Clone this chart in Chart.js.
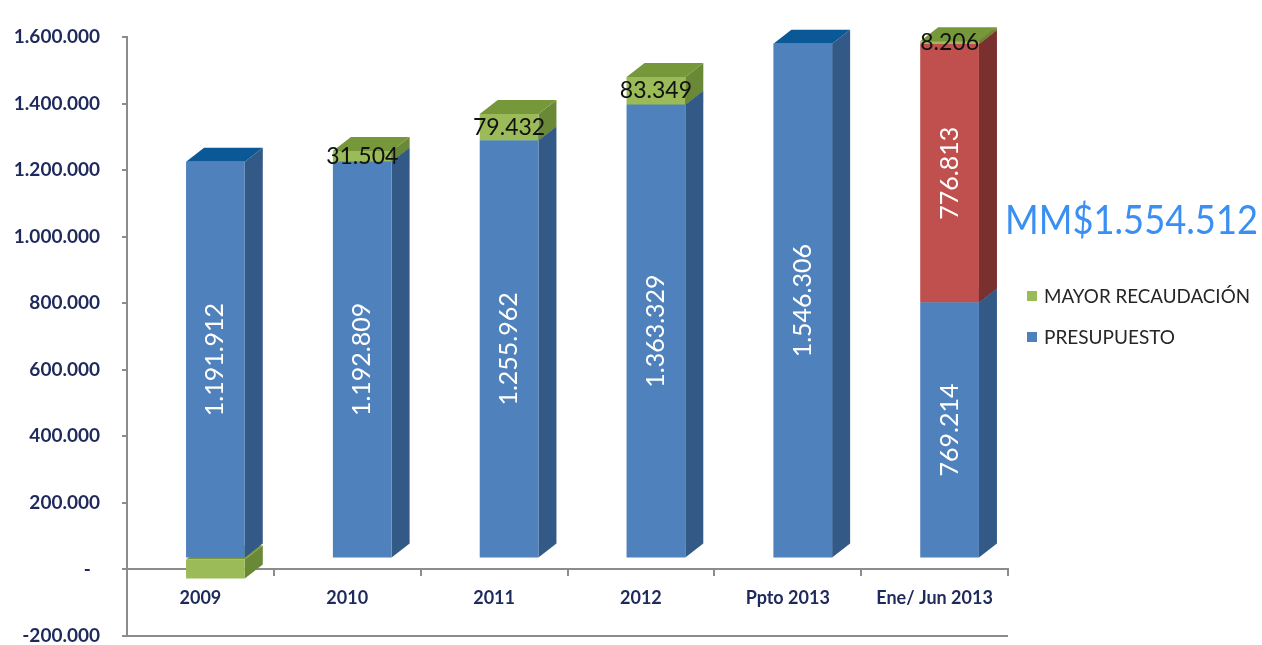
<!DOCTYPE html>
<html>
<head>
<meta charset="utf-8">
<script src="https://cdn.jsdelivr.net/npm/chart.js@4"></script>
<style>
  html, body { margin: 0; padding: 0; background: #fff; }
  #wrap { width: 1262px; height: 645px; position: relative; }
</style>
</head>
<body>
<div id="wrap"><canvas id="chart"></canvas></div>
<script>
// Presupuesto vs mayor recaudación (MM$)
const categories = ['2009', '2010', '2011', '2012', 'Ppto 2013', 'Ene/ Jun 2013'];
const presupuesto = [1191912, 1192809, 1255962, 1363329, 1546306, 769214];
const ejecutado = [null, null, null, null, null, 776813];
const mayorRecaudacion = [-60000, 31504, 79432, 83349, null, 8206];
const yTickLabels = ['-200.000', '-  ', '200.000', '400.000', '600.000', '800.000',
    '1.000.000', '1.200.000', '1.400.000', '1.600.000'];
const totalLabel = 'MM$1.554.512';

// 3D look: front faces shifted, then side and top faces added
const SHIFT_X = 15, SHIFT_Y = -11;
const DEPTH_X = 18, DEPTH_Y = -14;
const faceColors = [
    { side: '#335a86', top: '#0b5896' },  // presupuesto
    { side: '#7a302e', top: '#963936' },  // ejecutado
    { side: '#6a8936', top: '#77973b' }   // mayor recaudacion
];

function fmt(n) {
    return String(n).replace(/\B(?=(\d{3})+(?!\d))/g, '.');
}

function noPadding(scale) {
    scale.paddingTop = 0;
    scale.paddingBottom = 0;
    scale.paddingLeft = 0;
    scale.paddingRight = 0;
}

const bars3d = {
    id: 'bars3d',
    beforeDatasetsDraw(chart) {
        const ctx = chart.ctx;
        ctx.save();
        ctx.translate(SHIFT_X, SHIFT_Y);
        const segs = [];
        chart.data.datasets.forEach((ds, di) => {
            chart.getDatasetMeta(di).data.forEach((bar, i) => {
                const v = ds.data[i];
                if (v === null || v === 0) return;
                const p = bar.getProps(['x', 'y', 'base', 'width'], true);
                segs.push({
                    di,
                    left: p.x - p.width / 2,
                    right: p.x + p.width / 2,
                    top: Math.min(p.y, p.base),
                    bottom: Math.max(p.y, p.base)
                });
            });
        });
        segs.sort((a, b) => b.bottom - a.bottom);
        segs.forEach(s => {
            const c = faceColors[s.di];
            ctx.fillStyle = c.side;
            ctx.beginPath();
            ctx.moveTo(s.right, s.bottom);
            ctx.lineTo(s.right + DEPTH_X, s.bottom + DEPTH_Y);
            ctx.lineTo(s.right + DEPTH_X, s.top + DEPTH_Y);
            ctx.lineTo(s.right, s.top);
            ctx.closePath();
            ctx.fill();
            ctx.fillStyle = c.top;
            ctx.beginPath();
            ctx.moveTo(s.left, s.top);
            ctx.lineTo(s.left + DEPTH_X, s.top + DEPTH_Y);
            ctx.lineTo(s.right + DEPTH_X, s.top + DEPTH_Y);
            ctx.lineTo(s.right, s.top);
            ctx.closePath();
            ctx.fill();
        });
    },
    afterDatasetsDraw(chart) {
        const ctx = chart.ctx;
        chart.data.datasets.forEach((ds, di) => {
            chart.getDatasetMeta(di).data.forEach((bar, i) => {
                const v = ds.data[i];
                if (!v || v < 0) return;
                const p = bar.getProps(['x', 'y', 'base'], true);
                const cy = (p.y + p.base) / 2;
                ctx.save();
                if (di === 2) {
                    ctx.fillStyle = '#111';
                    ctx.font = '23px Lato';
                    ctx.textAlign = 'center';
                    ctx.textBaseline = 'middle';
                    ctx.fillText(fmt(v), p.x, cy);
                } else {
                    ctx.translate(p.x, cy);
                    ctx.rotate(-Math.PI / 2);
                    ctx.fillStyle = '#fff';
                    ctx.font = '25px Lato';
                    ctx.textAlign = 'center';
                    ctx.textBaseline = 'middle';
                    ctx.fillText(fmt(v), 0, 0);
                }
                ctx.restore();
            });
        });
        ctx.restore();
    },
    afterDraw(chart) {
        const ctx = chart.ctx;
        ctx.save();
        ctx.fillStyle = '#3a8ff2';
        ctx.font = '40px Lato';
        ctx.textAlign = 'right';
        ctx.textBaseline = 'middle';
        ctx.fillText(totalLabel, 1258, 221, 253);

        // legend: mayor recaudacion first, presupuesto second
        const items = [2, 0];
        ctx.font = '19px Lato';
        ctx.textAlign = 'left';
        items.forEach((di, k) => {
            const ds = chart.data.datasets[di];
            const y = 296 + k * 41;
            ctx.fillStyle = ds.backgroundColor;
            ctx.fillRect(1027, y - 5, 10, 10);
            ctx.fillStyle = '#262626';
            ctx.fillText(ds.label, 1044, y + 1, 206);
        });
        ctx.restore();
    }
};

const axisFont = { family: 'Lato', size: 18, weight: 'bold' };

new Chart(document.getElementById('chart'), {
    type: 'bar',
    data: {
        labels: categories,
        datasets: [
            { label: 'PRESUPUESTO', data: presupuesto, backgroundColor: '#4f81bd', borderWidth: 0 },
            { label: 'EJECUTADO', data: ejecutado, backgroundColor: '#c0504d', borderWidth: 0 },
            { label: 'MAYOR RECAUDACIÓN', data: mayorRecaudacion, backgroundColor: '#9bbb59', borderWidth: 0 }
        ]
    },
    options: {
        responsive: true,
        maintainAspectRatio: false,
        animation: false,
        layout: { padding: { top: 37, left: 0, right: 254, bottom: 9 } },
        datasets: { bar: { categoryPercentage: 1, barPercentage: 0.4 } },
        scales: {
            x: {
                stacked: true,
                position: { y: 0 },
                afterFit: noPadding,
                grid: { offset: true, drawOnChartArea: false, tickLength: 6, tickColor: '#8c8c8c', lineWidth: 2 },
                border: { color: '#8c8c8c', width: 2 },
                ticks: { font: axisFont, color: '#1f2a5c', padding: 12 }
            },
            y: {
                stacked: true,
                min: -200000,
                max: 1600000,
                afterFit: scale => { noPadding(scale); scale.width = 127; },
                grid: {
                    color: c => (c.tick && c.tick.value === -200000) ? '#8c8c8c' : 'rgba(0,0,0,0)',
                    tickColor: '#8c8c8c',
                    tickLength: 5,
                    lineWidth: 2
                },
                border: { color: '#8c8c8c', width: 2 },
                ticks: {
                    stepSize: 200000,
                    font: { family: 'Lato', size: 19, weight: 'bold' },
                    color: '#1f2a5c',
                    padding: 22,
                    callback: (v, i) => yTickLabels[i]
                }
            }
        },
        plugins: {
            tooltip: { enabled: false },
            legend: { display: false }
        }
    },
    plugins: [bars3d]
});
</script>
</body>
</html>
